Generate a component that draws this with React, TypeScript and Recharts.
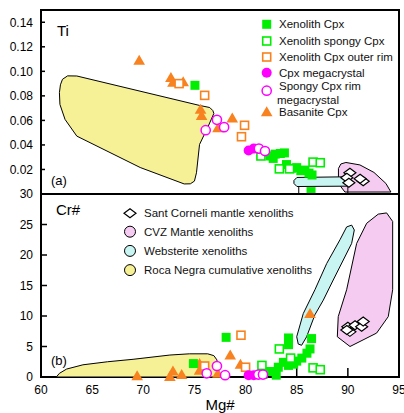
import React from "react";
import { ScatterChart, Scatter, XAxis, YAxis, ReferenceArea, Legend, Curve } from "recharts";

type Pt = [number, number];

// axes
const mgTicks = [60, 65, 70, 75, 80, 85, 90, 95];
const tiTicks = [0.02, 0.04, 0.06, 0.08, 0.1, 0.12, 0.14];
const crTicks = [0, 5, 10, 15, 20, 25, 30];

// (a) Ti vs Mg#
const xenoCpxTi: Pt[] = [
  [75.05, 0.0886], [82.4, 0.031], [82.7, 0.029], [82.9, 0.0325], [83.4, 0.033], [83.8, 0.0335],
  [84.0, 0.024], [84.5, 0.021], [85.0, 0.0215], [85.4, 0.019], [85.8, 0.0195], [86.2, 0.017],
  [86.5, 0.0155], [86.4, 0.002],
];
const spongyCpxTi: Pt[] = [[81.5, 0.031], [83.3, 0.0205], [84.3, 0.0205], [86.6, 0.026], [87.3, 0.0255]];
const outerRimTi: Pt[] = [[73.5, 0.09], [76.0, 0.0804], [79.9, 0.056], [79.6, 0.0467]];
const megaTi: Pt[] = [[80.3, 0.0355], [80.8, 0.037]];
const spongyMegaTi: Pt[] = [[77.2, 0.0605], [77.9, 0.0545], [76.1, 0.052], [81.3, 0.037], [81.9, 0.035]];
const basaniteTi: Pt[] = [
  [69.6, 0.109], [72.7, 0.095], [72.9, 0.091], [73.9, 0.0916], [75.6, 0.069], [75.7, 0.064],
  [78.7, 0.062], [77.3, 0.054],
];
const santCorneliTi: Pt[] = [[90.2, 0.0173], [89.9, 0.0132], [90.1, 0.0091], [91.5, 0.0104], [91.2, 0.0124]];

const rocaNegraTi: Pt[] = [
  [61.8, 0.0826], [61.9, 0.089], [62.1, 0.0935], [62.6, 0.0963], [63.5, 0.0962], [75.5, 0.0722],
  [76.5, 0.0705], [76.8, 0.068], [76.9, 0.0657], [76.3, 0.0543], [75.5, 0.0404], [75.2, 0.0173],
  [75.0, 0.0105], [74.6, 0.0083], [74.0, 0.0082], [69.7, 0.0216], [63.5, 0.0472], [62.35, 0.0608],
  [61.85, 0.073],
];
const websteriteTi: Pt[] = [
  [84.73, 0.011], [85.02, 0.0135], [89.71, 0.014], [90.04, 0.0118], [90.04, 0.0064], [85.02, 0.0061],
  [84.73, 0.0086],
];
const websteriteLegLeft: Pt[] = [[85.2, 0.0061], [85.2, 0]];
const websteriteLegRight: Pt[] = [[90.0, 0.0064], [90.0, 0]];
const cvzTi: Pt[] = [
  [89.08, 0.0135], [89.08, 0.0208], [89.32, 0.0245], [89.81, 0.0257], [91.18, 0.0237], [92.55, 0.0176],
  [93.72, 0.0086], [94.21, 0.0016], [89.71, 0.0016], [89.23, 0.0069],
];

// (b) Cr# vs Mg#
const xenoCpxCr: Pt[] = [
  [74.9, 2.2], [78.1, 6.5], [81.7, 0.4], [82.2, 0.9], [82.7, 0.9], [83.0, 0.3], [83.2, 1.6],
  [83.7, 2.4], [84.2, 1.9], [84.7, 2.1], [85.0, 2.6], [85.5, 3.1], [86.0, 3.9], [86.3, 4.6],
  [86.45, 6.3], [84.2, 6.4], [84.2, 5.3],
];
const spongyCpxCr: Pt[] = [[81.6, 1.9], [83.3, 4.6], [84.4, 3.1], [86.6, 1.5], [87.3, 1.2]];
const outerRimCr: Pt[] = [[79.55, 6.85], [80.0, 1.6], [76.0, 1.8]];
const megaCr: Pt[] = [[80.3, 0.3], [80.8, 0.3]];
const spongyMegaCr: Pt[] = [[77.2, 1.8], [76.2, 0.6], [78.0, 0.3], [81.25, 0.4], [81.7, 0.4]];
const basaniteCr: Pt[] = [
  [69.4, 0.2], [72.6, 0.1], [72.9, 1.0], [73.75, 0.4], [75.5, 2.2], [75.5, 1.1], [77.3, 0.6],
  [78.5, 3.6], [79.5, 2.1], [86.3, 10.4],
];
const santCorneliCr: Pt[] = [[90.0, 8.25], [90.2, 7.4], [89.9, 7.7], [90.7, 8.5], [91.35, 8.25], [91.5, 9.1]];

const rocaNegraCr: Pt[] = [
  [61.5, 0], [61.8, 0.6], [62.5, 1.3], [64.1, 2.0], [66.5, 2.5], [69.0, 2.9], [72.6, 3.6],
  [74.5, 3.8], [76.3, 3.8], [76.9, 3.5], [77.2, 2.8], [77.3, 1.5], [77.3, 0],
];
const websteriteCr: Pt[] = [
  [85.15, 5.4], [85.0, 6.6], [85.64, 10.4], [86.78, 14.3], [87.93, 18.6], [89.23, 22.5], [89.88, 24.6],
  [90.37, 24.9], [90.63, 24.1], [90.37, 21.9], [88.57, 15.9], [87.6, 12.6], [86.78, 10.2], [85.97, 6.6],
  [85.48, 5.2],
];
const cvzCr: Pt[] = [
  [93.79, 26.9], [94.38, 25.5], [94.38, 14.3], [93.95, 9.9], [92.81, 7.2], [90.21, 5.0], [88.97, 6.6],
  [89.06, 9.9], [89.88, 14.3], [90.86, 21.9], [91.84, 25.2], [92.97, 26.7],
];

const topLegendNames = ["Xenolith Cpx", "Xenolith spongy Cpx", "Xenolith Cpx outer rim", "Cpx megacrystal", "Spongy Cpx rim", "megacrystal", "Basanite Cpx"];
const bottomLegendNames = ["Sant Corneli mantle xenoliths", "CVZ Mantle xenoliths", "Websterite xenoliths", "Roca Negra cumulative xenoliths"];

const GREEN = "#00ef00";
const ORANGE = "#f7821f";
const MAGENTA = "#ff00ff";
const YELLOW = "#f6f196";
const CYAN = "#c8f4f1";
const PINK = "#f5cbf1";
const FONT = "'Liberation Sans', Arial, Helvetica, sans-serif";

const toXY = (pts: Pt[]) => pts.map(([x, y]) => ({ x, y }));

const FilledSquare = ({ cx, cy }: any) => <rect x={cx - 4.5} y={cy - 4.5} width={9} height={9} fill={GREEN} />;
const openSquare = (color: string) => ({ cx, cy }: any) => (
  <rect x={cx - 4} y={cy - 4} width={8} height={8} fill="#fff" stroke={color} strokeWidth={1.6} />
);
const FilledCircle = ({ cx, cy }: any) => <circle cx={cx} cy={cy} r={5} fill={MAGENTA} />;
const OpenCircle = ({ cx, cy }: any) => <circle cx={cx} cy={cy} r={4.6} fill="#fff" stroke={MAGENTA} strokeWidth={1.5} />;
const Triangle = ({ cx, cy }: any) => (
  <path d={`M${cx},${cy - 5.5}L${cx + 5.8},${cy + 4.5}L${cx - 5.8},${cy + 4.5}Z`} fill={ORANGE} />
);
const Diamond = ({ cx, cy }: any) => (
  <path d={`M${cx - 6},${cy}L${cx},${cy - 4.5}L${cx + 6},${cy}L${cx},${cy + 4.5}Z`} fill="#fff" stroke="#000" strokeWidth={1.2} />
);
const NoShape = () => <g />;

// closed outline through the scaled points of a series
const fieldLine = (fill: string) => (p: any) => (
  <Curve points={p.points} type="linearClosed" fill={fill} stroke="#000" strokeWidth={1} />
);
const openLine = (p: any) => <Curve points={p.points} type="linear" fill="none" stroke="#000" strokeWidth={1} />;

const tickStyle = { fill: "#000", fontSize: 12 };

function TopLegend() {
  const rows = [
    { y: 14.3, Icon: FilledSquare, text: [topLegendNames[0]] },
    { y: 31, Icon: openSquare(GREEN), text: [topLegendNames[1]] },
    { y: 47, Icon: openSquare(ORANGE), text: [topLegendNames[2]] },
    { y: 62.7, Icon: FilledCircle, text: [topLegendNames[3]] },
    { y: 80.7, Icon: OpenCircle, text: [] as string[] },
    { y: 101.7, Icon: Triangle, text: [topLegendNames[6]] },
  ];
  return (
    <svg width={145} height={112} style={{ fontFamily: FONT }}>
      {rows.map((r, i) => (
        <g key={i}>
          <r.Icon cx={11.7} cy={r.y} />
          {r.text.map((t) => (
            <text key={t} x={24} y={r.y} dominantBaseline="central" fontSize={11.5} fill="#111">{t}</text>
          ))}
        </g>
      ))}
      <text x={24} y={75.7} dominantBaseline="central" fontSize={11.5} fill="#111">{topLegendNames[4]}</text>
      <text x={22} y={90} dominantBaseline="central" fontSize={11.5} fill="#111">{topLegendNames[5]}</text>
    </svg>
  );
}

function BottomLegend() {
  const fills = [PINK, CYAN, YELLOW];
  return (
    <svg width={210} height={76} style={{ fontFamily: FONT }}>
      <Diamond cx={12} cy={9.3} />
      {fills.map((f, i) => (
        <circle key={f} cx={12} cy={27.7 + i * 19.2} r={5.5} fill={f} stroke="#000" strokeWidth={1} />
      ))}
      {bottomLegendNames.map((t, i) => (
        <text key={t} x={26} y={9.3 + i * 19} dominantBaseline="central" fontSize={11.5} fill="#111">{t}</text>
      ))}
    </svg>
  );
}

function Overlay({ text, left, top, size }: { text: string; left: number; top: number; size: number }) {
  return (
    <div style={{ position: "absolute", left, top, fontSize: size, lineHeight: `${size}px`, color: "#000" }}>{text}</div>
  );
}

export default function App() {
  return (
    <div style={{ position: "absolute", left: 0, top: 0, width: 404, height: 413, background: "#fff", fontFamily: FONT }}>
      <div style={{ position: "absolute", left: 0, top: 0 }}>
        <ScatterChart width={404} height={194} margin={{ top: 10, right: 5, bottom: 0, left: 0 }}>
          <XAxis type="number" dataKey="x" domain={[60, 95]} ticks={mgTicks} interval={0} height={0}
            tickSize={-7} tickFormatter={() => ""} axisLine={{ stroke: "#000", strokeWidth: 2 }}
            tickLine={{ stroke: "#000", strokeWidth: 1.5 }} />
          <YAxis type="number" dataKey="y" domain={[0, 0.15]} ticks={tiTicks} interval={0} width={41}
            tickSize={-4} tickMargin={12} tick={tickStyle} tickFormatter={(v: number) => v.toFixed(2)}
            axisLine={{ stroke: "#000", strokeWidth: 2 }} tickLine={{ stroke: "#000", strokeWidth: 1.5 }} />
          <Scatter data={toXY(rocaNegraTi)} shape={NoShape} line={fieldLine(YELLOW)} legendType="none" isAnimationActive={false} />
          <Scatter data={toXY(cvzTi)} shape={NoShape} line={fieldLine(PINK)} legendType="none" isAnimationActive={false} />
          <Scatter data={toXY(websteriteTi)} shape={NoShape} line={fieldLine(CYAN)} legendType="none" isAnimationActive={false} />
          <Scatter data={toXY(websteriteLegLeft)} shape={NoShape} line={openLine} legendType="none" isAnimationActive={false} />
          <Scatter data={toXY(websteriteLegRight)} shape={NoShape} line={openLine} legendType="none" isAnimationActive={false} />
          <Scatter data={toXY(santCorneliTi)} shape={Diamond} isAnimationActive={false} />
          <Scatter data={toXY(basaniteTi)} shape={Triangle} isAnimationActive={false} />
          <Scatter data={toXY(xenoCpxTi)} shape={FilledSquare} isAnimationActive={false} />
          <Scatter data={toXY(spongyCpxTi)} shape={openSquare(GREEN)} isAnimationActive={false} />
          <Scatter data={toXY(outerRimTi)} shape={openSquare(ORANGE)} isAnimationActive={false} />
          <Scatter data={toXY(megaTi)} shape={FilledCircle} isAnimationActive={false} />
          <Scatter data={toXY(spongyMegaTi)} shape={OpenCircle} isAnimationActive={false} />
          <ReferenceArea x1={60} x2={95} y1={0} y2={0.15} fill="none" stroke="#000" strokeWidth={2} />
          <Legend layout="vertical" align="center" verticalAlign="middle" content={() => <TopLegend />}
            wrapperStyle={{ left: 255, top: 10, width: 145, height: 112 }} />
        </ScatterChart>
      </div>
      <div style={{ position: "absolute", left: 0, top: 184 }}>
        <ScatterChart width={404} height={229} margin={{ top: 10, right: 5, bottom: 0, left: 0 }}>
          <XAxis type="number" dataKey="x" domain={[60, 95]} ticks={mgTicks} interval={0} height={36}
            tickSize={-9} tickMargin={17} tick={tickStyle} axisLine={{ stroke: "#000", strokeWidth: 2 }}
            tickLine={{ stroke: "#000", strokeWidth: 1.5 }}
            label={{ value: "Mg#", position: "insideBottom", offset: 3, fontSize: 15, fill: "#000" }} />
          <YAxis type="number" dataKey="y" domain={[0, 30]} ticks={crTicks} interval={0} width={41}
            tickSize={-6} tickMargin={14} tick={tickStyle}
            axisLine={{ stroke: "#000", strokeWidth: 2 }} tickLine={{ stroke: "#000", strokeWidth: 1.5 }} />
          <Scatter data={toXY(rocaNegraCr)} shape={NoShape} line={fieldLine(YELLOW)} legendType="none" isAnimationActive={false} />
          <Scatter data={toXY(cvzCr)} shape={NoShape} line={fieldLine(PINK)} legendType="none" isAnimationActive={false} />
          <Scatter data={toXY(websteriteCr)} shape={NoShape} line={fieldLine(CYAN)} legendType="none" isAnimationActive={false} />
          <Scatter data={toXY(santCorneliCr)} shape={Diamond} isAnimationActive={false} />
          <Scatter data={toXY(basaniteCr)} shape={Triangle} isAnimationActive={false} />
          <Scatter data={toXY(xenoCpxCr)} shape={FilledSquare} isAnimationActive={false} />
          <Scatter data={toXY(spongyCpxCr)} shape={openSquare(GREEN)} isAnimationActive={false} />
          <Scatter data={toXY(outerRimCr)} shape={openSquare(ORANGE)} isAnimationActive={false} />
          <Scatter data={toXY(megaCr)} shape={FilledCircle} isAnimationActive={false} />
          <Scatter data={toXY(spongyMegaCr)} shape={OpenCircle} isAnimationActive={false} />
          <ReferenceArea x1={60} x2={95} y1={0} y2={30} fill="none" stroke="#000" strokeWidth={2} />
          <Legend layout="vertical" align="center" verticalAlign="middle" content={() => <BottomLegend />}
            wrapperStyle={{ left: 118, top: 20, width: 210, height: 76 }} />
        </ScatterChart>
      </div>
      <Overlay text="Ti" left={57} top={23} size={15} />
      <Overlay text="(a)" left={51} top={174} size={13} />
      <Overlay text="Cr#" left={56} top={202} size={15} />
      <Overlay text="(b)" left={51} top={354} size={13} />
    </div>
  );
}
